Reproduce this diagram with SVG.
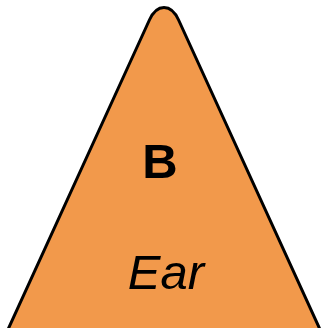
<svg xmlns="http://www.w3.org/2000/svg" width="322" height="328" viewBox="0 0 322 328">
<style>
.shape{fill:#F2994B;stroke:#000;stroke-width:3;stroke-linejoin:round}
.t{font-family:"Liberation Sans",Arial,sans-serif;font-size:49px;fill:#000;text-anchor:middle}
</style>
<g id="node-triangle">
<path class="shape" d="M 0.9 345 L 149.4 20 C 157 3.3 171 3.3 178.6 20 L 327.1 345 Z"/>
<text class="t" x="160" y="178" font-weight="bold">B</text>
<text class="t" x="166" y="289" font-style="italic">Ear</text>
</g>
<g id="connectors"/>
</svg>
